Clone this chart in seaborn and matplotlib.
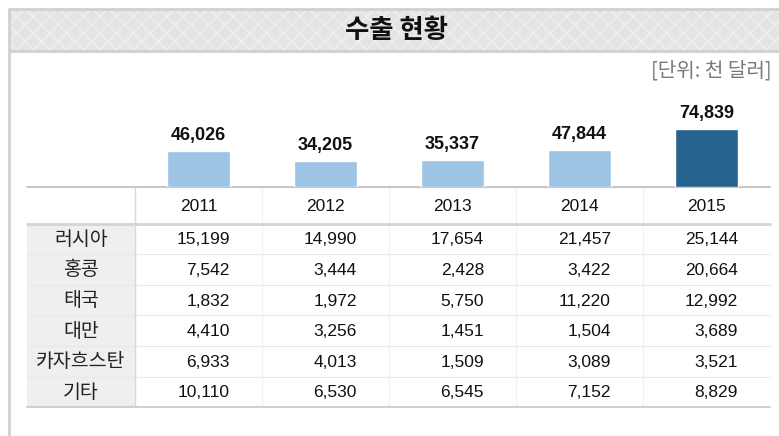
import matplotlib
matplotlib.use('Agg')
import matplotlib.pyplot as plt
from matplotlib.patches import Rectangle
import seaborn as sns
import pandas as pd

# data
years = ['2011', '2012', '2013', '2014', '2015']
totals = [46026, 34205, 35337, 47844, 74839]
countries = ['러시아', '홍콩', '태국', '대만', '카자흐스탄', '기타']
russia = [15199, 14990, 17654, 21457, 25144]
hongkong = [7542, 3444, 2428, 3422, 20664]
thailand = [1832, 1972, 5750, 11220, 12992]
taiwan = [4410, 3256, 1451, 1504, 3689]
kazakhstan = [6933, 4013, 1509, 3089, 3521]
others = [10110, 6530, 6545, 7152, 8829]
rows = [russia, hongkong, thailand, taiwan, kazakhstan, others]

title = '수출 현황'
unit = '[단위: 천 달러]'

sns.set_style('white')
plt.rcParams['font.family'] = ['Liberation Sans', 'Noto Sans CJK KR', 'DejaVu Sans']
kr = ['Noto Sans CJK KR', 'DejaVu Sans']

W, H = 779, 436
fig = plt.figure(figsize=(W / 100, H / 100), dpi=100)
fig.patch.set_facecolor('white')

# overlay in pixel coordinates for frame and table
lay = fig.add_axes([0, 0, 1, 1])
lay.set_xlim(0, W)
lay.set_ylim(H, 0)
lay.axis('off')

frame_col = '#d0d0d0'
# title band
lay.add_patch(Rectangle((9, 9), W, 42, facecolor='#e4e4e4', edgecolor='#efefef',
                        hatch='xx', linewidth=0, zorder=1))
lay.plot([9, W], [9, 9], color=frame_col, lw=2, zorder=2)
lay.plot([9, W], [51, 51], color=frame_col, lw=2, zorder=2)
lay.plot([9, 9], [9, H], color=frame_col, lw=2, zorder=2)
lay.text(397, 30, title, ha='center', va='center', fontsize=19, fontweight='bold',
         family=kr, color='#111111', zorder=3)
lay.text(772, 71, unit, ha='right', va='center', fontsize=14.5,
         family=kr, color='#7a7a7a')

# table geometry
tab_left, lab_right, col_w = 27, 135, 127
tab_right = lab_right + col_w * len(years)
base_y, head_bot, row_h = 187.3, 223.5, 30.6
tab_bot = head_bot + row_h * len(countries)

lay.add_patch(Rectangle((tab_left, head_bot), lab_right - tab_left, tab_bot - head_bot,
                        facecolor='#efefef', edgecolor='none', zorder=1))
for k in range(1, len(countries)):
    yy = head_bot + row_h * k
    lay.plot([tab_left, tab_right], [yy, yy], color='#e8e8e8', lw=0.8, zorder=2)
for i in range(1, len(years)):
    xx = lab_right + col_w * i
    lay.plot([xx, xx], [base_y, tab_bot], color='#f0f0f0', lw=0.8, zorder=2)
lay.plot([lab_right, lab_right], [base_y, tab_bot], color='#d8d8d8', lw=1, zorder=2)
lay.plot([tab_left, tab_right], [base_y, base_y], color='#c8c8c8', lw=1.5, zorder=3)
lay.plot([tab_left, tab_right], [head_bot, head_bot], color='#d4d4d4', lw=2, zorder=3)
lay.plot([tab_left, tab_right], [tab_bot, tab_bot], color='#d0d0d0', lw=1.5, zorder=3)

for i, yr in enumerate(years):
    lay.text(lab_right + col_w * (i + 0.5), 206, yr, ha='center', va='center',
             fontsize=12.5, color='#111111')
for k, (name, vals) in enumerate(zip(countries, rows)):
    yy = head_bot + row_h * (k + 0.5) + 1
    lay.text((tab_left + lab_right) / 2, yy - 0.5, name, ha='center', va='center',
             fontsize=14, family=kr, color='#222222')
    for i, v in enumerate(vals):
        lay.text(lab_right + col_w * i + 95, yy, f'{v:,}', ha='right', va='center',
                 fontsize=12.5, color='#111111')

# bar chart sits on top of the table header line
ax = fig.add_axes([lab_right / W, (H - base_y) / H, (tab_right - lab_right) / W, 100 / H])
ax.patch.set_alpha(0)
df = pd.DataFrame({'year': years, 'total': totals})
colors = ['#9dc3e5'] * 4 + ['#26638f']
sns.barplot(data=df, x='year', y='total', hue='year', palette=colors, legend=False,
            width=0.5, saturation=1, ax=ax)
ax.set_xlim(-0.5, len(years) - 0.5)
ax.set_ylim(0, 74839 / 58.6 * 100)
ax.axis('off')
for cont in ax.containers:
    ax.bar_label(cont, labels=[f'{v:,.0f}' for v in cont.datavalues], padding=5,
                 fontsize=13, fontweight='bold', color='#111111')

fig.savefig('out.png', dpi=100)
